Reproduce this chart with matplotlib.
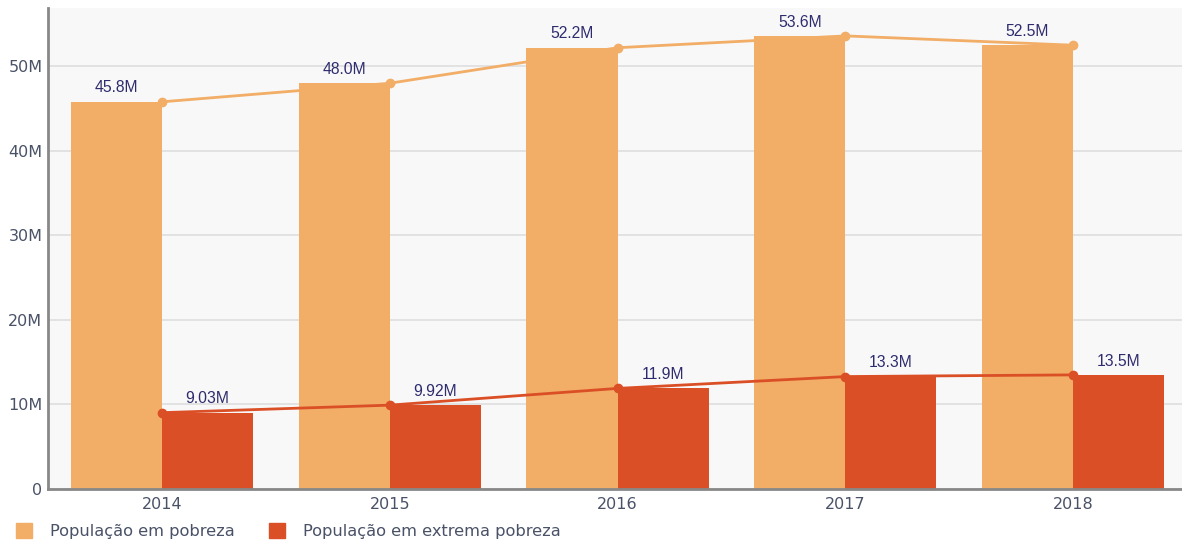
import matplotlib
matplotlib.use("Agg")
import matplotlib.pyplot as plt
from matplotlib.patches import Patch

years = ["2014", "2015", "2016", "2017", "2018"]
pobreza = [45.8, 48.0, 52.2, 53.6, 52.5]
extrema = [9.03, 9.92, 11.9, 13.3, 13.5]
pobreza_labels = ["45.8M", "48.0M", "52.2M", "53.6M", "52.5M"]
extrema_labels = ["9.03M", "9.92M", "11.9M", "13.3M", "13.5M"]
yticks = [0, 10, 20, 30, 40, 50]
ytick_labels = ["0", "10M", "20M", "30M", "40M", "50M"]
legend_names = ["População em pobreza", "População em extrema pobreza"]

c_light = "#F2AD67"
c_dark = "#DB4F26"
label_color = "#2E2C6E"
tick_color = "#4A5268"

plt.rcParams['font.family'] = ['DejaVu Sans']

fig = plt.figure(figsize=(11.82, 5.42), dpi=100)
ax = fig.add_axes([48/1182, 1 - 489/542, (1187-48)/1182, (489-8)/542])
ax.set_facecolor("#F8F8F8")

x = list(range(len(years)))
w = 0.4
ax.bar([i - w/2 for i in x], pobreza, width=w, color=c_light, zorder=2)
ax.bar([i + w/2 for i in x], extrema, width=w, color=c_dark, zorder=2)
ax.plot(x, pobreza, color=c_light, lw=2, marker='o', ms=6, zorder=3)
ax.plot(x, extrema, color=c_dark, lw=2, marker='o', ms=6, zorder=3)

for i in x:
    ax.text(i - w/2, pobreza[i] + 0.75, pobreza_labels[i], ha='center', va='bottom',
            fontsize=11.3, color=label_color, zorder=4, family=['Liberation Sans'])
    ax.text(i + w/2, extrema[i] + 0.75, extrema_labels[i], ha='center', va='bottom',
            fontsize=11.3, color=label_color, zorder=4, family=['Liberation Sans'])

ax.set_xlim(-0.5, 4.5)
ax.set_ylim(0, 56.9)
ax.set_yticks(yticks)
ax.set_yticklabels(ytick_labels)
ax.set_xticks(x)
ax.set_xticklabels(years)
ax.tick_params(axis='both', length=0, labelsize=11.5, colors=tick_color)
ax.tick_params(axis='y', pad=4)
ax.tick_params(axis='x', pad=6)
ax.yaxis.grid(True, color="#DEDEDE", lw=1.2, zorder=0)
ax.set_axisbelow(True)
for s in ['top', 'right']:
    ax.spines[s].set_visible(False)
for s in ['left', 'bottom']:
    ax.spines[s].set_color("#888888")
    ax.spines[s].set_linewidth(2)

handles = [Patch(color=c_light), Patch(color=c_dark)]
fig.legend(handles, legend_names, loc='lower left', bbox_to_anchor=(0.001, -0.022),
           ncol=2, frameon=False, fontsize=11.7, handlelength=1.0, handleheight=1.0,
           handletextpad=1.1, columnspacing=2.1, labelcolor=tick_color)

fig.savefig("out.png", dpi=100, facecolor="white")
